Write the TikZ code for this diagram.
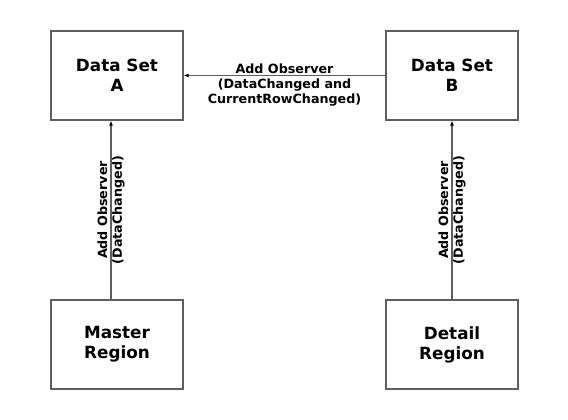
\documentclass[tikz,border=0pt]{standalone}
\usepackage{fontspec}
\setmainfont{DejaVu Sans}
\usetikzlibrary{arrows.meta,positioning}
\newlength{\boxwidth}
\setlength{\boxwidth}{132pt}
\newlength{\boxheight}
\setlength{\boxheight}{89pt}
\definecolor{linegray}{RGB}{95,95,95}
\begin{document}
\begin{tikzpicture}[x=1pt,y=-1pt]
  \tikzstyle{block}=[
       draw=linegray,
       line width=1.2pt,
       minimum width=\boxwidth,
       minimum height=\boxheight,
       align=center,
       font=\fontsize{16.8}{20}\selectfont\bfseries]
  \tikzstyle{observer}=[
       draw=linegray,
       line width=1.2pt,
       -{Latex[length=5pt,width=4pt,color=black]}]
  \tikzstyle{edgetext}=[
       align=center,
       font=\fontsize{12.7}{14.8}\selectfont\bfseries]
  \useasboundingbox (0,0) rectangle (568,420);
  \node[block] (setA) at (117,75.5) {Data Set\\A};
  \node[block] (setB) at (452,75.5) {Data Set\\B};
  \node[block] (master) at (117,344.5) {Master\\Region};
  \node[block] (detail) at (452,344.5) {Detail\\Region};
  % B observes A
  \draw[observer] (setB.west) -- (setA.east)
      node[midway,above,inner sep=1pt,edgetext] (obsBAtop) {Add Observer}
      node[midway,below,inner sep=3pt,edgetext] (obsBAbot) {(DataChanged and\\CurrentRowChanged)};
  % regions observe their data sets
  \draw[observer] ([xshift=-6pt]master.north) -- ([xshift=-6pt]setA.south)
      node[midway,rotate=90,edgetext] (obsMA) {Add Observer\\(DataChanged)};
  \draw[observer] (detail.north) -- (setB.south)
      node[midway,rotate=90,edgetext] (obsDB) {Add Observer\\(DataChanged)};
\end{tikzpicture}
\end{document}
